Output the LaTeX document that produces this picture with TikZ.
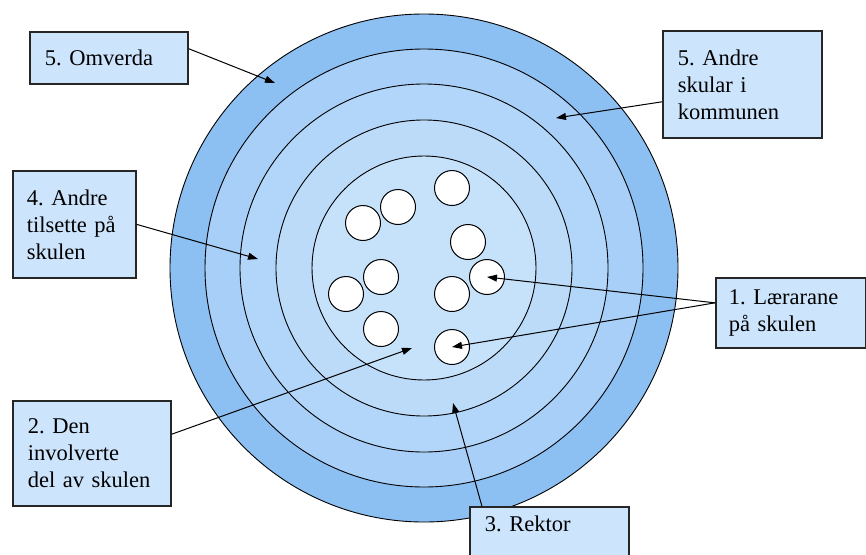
\documentclass[tikz,border=0pt]{standalone}
\usepackage{fontspec}
\setmainfont{Liberation Serif}
\frenchspacing
\usetikzlibrary{arrows.meta,calc}
\definecolor{ringA}{HTML}{8DC0F2}
\definecolor{ringB}{HTML}{A8CFF7}
\definecolor{ringC}{HTML}{B2D6F9}
\definecolor{ringD}{HTML}{BBDBF9}
\definecolor{ringE}{HTML}{C6E1FA}
\definecolor{boxblue}{HTML}{CCE4FC}
\definecolor{boxedge}{HTML}{262626}
\tikzset{
    labelbox/.style={rectangle,draw=boxedge,fill=boxblue,line width=1.8pt,
        anchor=north west,align=left,inner xsep=15pt,inner ysep=9pt,
        font=\fontsize{22.5}{27}\selectfont},
    pointer/.style={-{Triangle[length=10pt,width=7pt]},line width=1pt},
    pupil/.style={circle,draw,fill=white,line width=1pt,minimum size=35pt,inner sep=0pt},
}

\begin{document}
\begin{tikzpicture}[x=1pt,y=-1pt]
    \useasboundingbox (0,0) rectangle (866,554);
    \fill[white] (0,0) rectangle (866,554);

    % the rings, outside in
    \coordinate (c) at (424,268);
    \foreach \r/\col in {254/ringA,219/ringB,184/ringC,148/ringD,112/ringE}
        \draw[fill=\col,line width=0.9pt] (c) circle[radius=\r pt];

    % the teachers
    \foreach \x/\y [count=\i] in {452/188,398/207,363/223,468/242,381/277,
                                 487/277,346/294,452/294,381/329,452/347}
        \node[pupil] (p\i) at (\x,\y) {};

    \coordinate (omv tip) at (275,83);
    \coordinate (skular tip) at (556,118);
    \coordinate (tils tip) at (258,259);
    \coordinate (inv tip) at (412,348);
    \coordinate (rek tip) at (453,403);

    \node[labelbox,text width=128pt,minimum height=52pt] (omverda) at (29,31) {5. Omverda};
    \node[labelbox,text width=129pt,minimum height=107pt] (skular) at (662,30)
        {5. Andre\\skular i\\kommunen};
    \node[labelbox,text width=95pt,inner xsep=14pt,minimum height=107pt] (tilsette) at (12,170)
        {4. Andre\\tilsette på\\skulen};
    \node[labelbox,text width=124pt,inner xsep=13pt,minimum height=70pt] (laerar) at (715,277)
        {1. Lærarane\\på skulen};
    \node[labelbox,text width=128pt,minimum height=105pt] (involv) at (12,400)
        {2. Den\\involverte\\del av skulen};
    \node[labelbox,text width=129pt,text depth=30pt] (rektor) at (469,506) {3. Rektor};

    \draw[pointer] ($(omverda.north east)!0.33!(omverda.south east)$) -- (omv tip);
    \draw[pointer] ($(skular.north west)!0.66!(skular.south west)$) -- (skular tip);
    \draw[pointer] (tilsette.east) -- (tils tip);
    \draw[pointer] ($(laerar.north west)!0.36!(laerar.south west)$) -- (p6.center);
    \draw[pointer] ($(laerar.north west)!0.36!(laerar.south west)$) -- (p10.center);
    \draw[pointer] ($(involv.north east)!0.32!(involv.south east)$) -- (inv tip);
    \draw[pointer] ($(rektor.north west)!0.08!(rektor.north east)$) -- (rek tip);
\end{tikzpicture}
\end{document}
